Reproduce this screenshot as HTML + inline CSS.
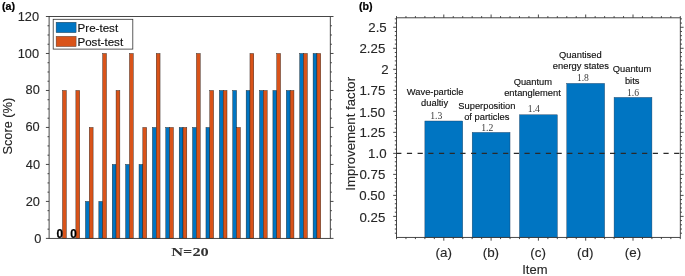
<!DOCTYPE html>
<html><head><meta charset="utf-8"><style>
html,body{margin:0;padding:0;background:#fff;}
svg{display:block;will-change:transform;}

</style></head><body>
<svg width="685" height="276" viewBox="0 0 685 276">
<rect width="685" height="276" fill="#fff"/>
<rect x="62.49" y="90.47" width="3.83" height="147.93" fill="#D95319" stroke="#1a1a1a" stroke-width="0.4"/>
<rect x="75.88" y="90.47" width="3.83" height="147.93" fill="#D95319" stroke="#1a1a1a" stroke-width="0.4"/>
<rect x="85.45" y="201.42" width="3.83" height="36.98" fill="#0075C2" stroke="#1a1a1a" stroke-width="0.4"/>
<rect x="89.27" y="127.45" width="3.83" height="110.95" fill="#D95319" stroke="#1a1a1a" stroke-width="0.4"/>
<rect x="98.84" y="201.42" width="3.83" height="36.98" fill="#0075C2" stroke="#1a1a1a" stroke-width="0.4"/>
<rect x="102.66" y="53.48" width="3.83" height="184.92" fill="#D95319" stroke="#1a1a1a" stroke-width="0.4"/>
<rect x="112.23" y="164.43" width="3.83" height="73.97" fill="#0075C2" stroke="#1a1a1a" stroke-width="0.4"/>
<rect x="116.05" y="90.47" width="3.83" height="147.93" fill="#D95319" stroke="#1a1a1a" stroke-width="0.4"/>
<rect x="125.62" y="164.43" width="3.83" height="73.97" fill="#0075C2" stroke="#1a1a1a" stroke-width="0.4"/>
<rect x="129.44" y="53.48" width="3.83" height="184.92" fill="#D95319" stroke="#1a1a1a" stroke-width="0.4"/>
<rect x="139.01" y="164.43" width="3.83" height="73.97" fill="#0075C2" stroke="#1a1a1a" stroke-width="0.4"/>
<rect x="142.83" y="127.45" width="3.83" height="110.95" fill="#D95319" stroke="#1a1a1a" stroke-width="0.4"/>
<rect x="152.40" y="127.45" width="3.83" height="110.95" fill="#0075C2" stroke="#1a1a1a" stroke-width="0.4"/>
<rect x="156.22" y="53.48" width="3.83" height="184.92" fill="#D95319" stroke="#1a1a1a" stroke-width="0.4"/>
<rect x="165.79" y="127.45" width="3.83" height="110.95" fill="#0075C2" stroke="#1a1a1a" stroke-width="0.4"/>
<rect x="169.61" y="127.45" width="3.83" height="110.95" fill="#D95319" stroke="#1a1a1a" stroke-width="0.4"/>
<rect x="179.18" y="127.45" width="3.83" height="110.95" fill="#0075C2" stroke="#1a1a1a" stroke-width="0.4"/>
<rect x="183.00" y="127.45" width="3.83" height="110.95" fill="#D95319" stroke="#1a1a1a" stroke-width="0.4"/>
<rect x="192.57" y="127.45" width="3.83" height="110.95" fill="#0075C2" stroke="#1a1a1a" stroke-width="0.4"/>
<rect x="196.40" y="53.48" width="3.83" height="184.92" fill="#D95319" stroke="#1a1a1a" stroke-width="0.4"/>
<rect x="205.96" y="127.45" width="3.83" height="110.95" fill="#0075C2" stroke="#1a1a1a" stroke-width="0.4"/>
<rect x="209.79" y="90.47" width="3.83" height="147.93" fill="#D95319" stroke="#1a1a1a" stroke-width="0.4"/>
<rect x="219.35" y="90.47" width="3.83" height="147.93" fill="#0075C2" stroke="#1a1a1a" stroke-width="0.4"/>
<rect x="223.18" y="90.47" width="3.83" height="147.93" fill="#D95319" stroke="#1a1a1a" stroke-width="0.4"/>
<rect x="232.74" y="90.47" width="3.83" height="147.93" fill="#0075C2" stroke="#1a1a1a" stroke-width="0.4"/>
<rect x="236.57" y="127.45" width="3.83" height="110.95" fill="#D95319" stroke="#1a1a1a" stroke-width="0.4"/>
<rect x="246.13" y="90.47" width="3.83" height="147.93" fill="#0075C2" stroke="#1a1a1a" stroke-width="0.4"/>
<rect x="249.96" y="53.48" width="3.83" height="184.92" fill="#D95319" stroke="#1a1a1a" stroke-width="0.4"/>
<rect x="259.52" y="90.47" width="3.83" height="147.93" fill="#0075C2" stroke="#1a1a1a" stroke-width="0.4"/>
<rect x="263.35" y="90.47" width="3.83" height="147.93" fill="#D95319" stroke="#1a1a1a" stroke-width="0.4"/>
<rect x="272.91" y="90.47" width="3.83" height="147.93" fill="#0075C2" stroke="#1a1a1a" stroke-width="0.4"/>
<rect x="276.74" y="53.48" width="3.83" height="184.92" fill="#D95319" stroke="#1a1a1a" stroke-width="0.4"/>
<rect x="286.30" y="90.47" width="3.83" height="147.93" fill="#0075C2" stroke="#1a1a1a" stroke-width="0.4"/>
<rect x="290.13" y="90.47" width="3.83" height="147.93" fill="#D95319" stroke="#1a1a1a" stroke-width="0.4"/>
<rect x="299.69" y="53.48" width="3.83" height="184.92" fill="#0075C2" stroke="#1a1a1a" stroke-width="0.4"/>
<rect x="303.52" y="53.48" width="3.83" height="184.92" fill="#D95319" stroke="#1a1a1a" stroke-width="0.4"/>
<rect x="313.08" y="53.48" width="3.83" height="184.92" fill="#0075C2" stroke="#1a1a1a" stroke-width="0.4"/>
<rect x="316.91" y="53.48" width="3.83" height="184.92" fill="#D95319" stroke="#1a1a1a" stroke-width="0.4"/>
<rect x="49.1" y="16.5" width="281.20" height="221.90" fill="none" stroke="#333333" stroke-width="0.9"/>
<line x1="45.90" y1="238.40" x2="49.1" y2="238.40" stroke="#333333" stroke-width="0.9"/>
<line x1="330.3" y1="238.40" x2="333.50" y2="238.40" stroke="#333333" stroke-width="0.9"/>
<line x1="47.50" y1="229.15" x2="49.1" y2="229.15" stroke="#333333" stroke-width="0.9"/>
<line x1="330.3" y1="229.15" x2="331.90" y2="229.15" stroke="#333333" stroke-width="0.9"/>
<line x1="47.50" y1="219.91" x2="49.1" y2="219.91" stroke="#333333" stroke-width="0.9"/>
<line x1="330.3" y1="219.91" x2="331.90" y2="219.91" stroke="#333333" stroke-width="0.9"/>
<line x1="47.50" y1="210.66" x2="49.1" y2="210.66" stroke="#333333" stroke-width="0.9"/>
<line x1="330.3" y1="210.66" x2="331.90" y2="210.66" stroke="#333333" stroke-width="0.9"/>
<line x1="45.90" y1="201.42" x2="49.1" y2="201.42" stroke="#333333" stroke-width="0.9"/>
<line x1="330.3" y1="201.42" x2="333.50" y2="201.42" stroke="#333333" stroke-width="0.9"/>
<line x1="47.50" y1="192.17" x2="49.1" y2="192.17" stroke="#333333" stroke-width="0.9"/>
<line x1="330.3" y1="192.17" x2="331.90" y2="192.17" stroke="#333333" stroke-width="0.9"/>
<line x1="47.50" y1="182.93" x2="49.1" y2="182.93" stroke="#333333" stroke-width="0.9"/>
<line x1="330.3" y1="182.93" x2="331.90" y2="182.93" stroke="#333333" stroke-width="0.9"/>
<line x1="47.50" y1="173.68" x2="49.1" y2="173.68" stroke="#333333" stroke-width="0.9"/>
<line x1="330.3" y1="173.68" x2="331.90" y2="173.68" stroke="#333333" stroke-width="0.9"/>
<line x1="45.90" y1="164.43" x2="49.1" y2="164.43" stroke="#333333" stroke-width="0.9"/>
<line x1="330.3" y1="164.43" x2="333.50" y2="164.43" stroke="#333333" stroke-width="0.9"/>
<line x1="47.50" y1="155.19" x2="49.1" y2="155.19" stroke="#333333" stroke-width="0.9"/>
<line x1="330.3" y1="155.19" x2="331.90" y2="155.19" stroke="#333333" stroke-width="0.9"/>
<line x1="47.50" y1="145.94" x2="49.1" y2="145.94" stroke="#333333" stroke-width="0.9"/>
<line x1="330.3" y1="145.94" x2="331.90" y2="145.94" stroke="#333333" stroke-width="0.9"/>
<line x1="47.50" y1="136.70" x2="49.1" y2="136.70" stroke="#333333" stroke-width="0.9"/>
<line x1="330.3" y1="136.70" x2="331.90" y2="136.70" stroke="#333333" stroke-width="0.9"/>
<line x1="45.90" y1="127.45" x2="49.1" y2="127.45" stroke="#333333" stroke-width="0.9"/>
<line x1="330.3" y1="127.45" x2="333.50" y2="127.45" stroke="#333333" stroke-width="0.9"/>
<line x1="47.50" y1="118.20" x2="49.1" y2="118.20" stroke="#333333" stroke-width="0.9"/>
<line x1="330.3" y1="118.20" x2="331.90" y2="118.20" stroke="#333333" stroke-width="0.9"/>
<line x1="47.50" y1="108.96" x2="49.1" y2="108.96" stroke="#333333" stroke-width="0.9"/>
<line x1="330.3" y1="108.96" x2="331.90" y2="108.96" stroke="#333333" stroke-width="0.9"/>
<line x1="47.50" y1="99.71" x2="49.1" y2="99.71" stroke="#333333" stroke-width="0.9"/>
<line x1="330.3" y1="99.71" x2="331.90" y2="99.71" stroke="#333333" stroke-width="0.9"/>
<line x1="45.90" y1="90.47" x2="49.1" y2="90.47" stroke="#333333" stroke-width="0.9"/>
<line x1="330.3" y1="90.47" x2="333.50" y2="90.47" stroke="#333333" stroke-width="0.9"/>
<line x1="47.50" y1="81.22" x2="49.1" y2="81.22" stroke="#333333" stroke-width="0.9"/>
<line x1="330.3" y1="81.22" x2="331.90" y2="81.22" stroke="#333333" stroke-width="0.9"/>
<line x1="47.50" y1="71.97" x2="49.1" y2="71.97" stroke="#333333" stroke-width="0.9"/>
<line x1="330.3" y1="71.97" x2="331.90" y2="71.97" stroke="#333333" stroke-width="0.9"/>
<line x1="47.50" y1="62.73" x2="49.1" y2="62.73" stroke="#333333" stroke-width="0.9"/>
<line x1="330.3" y1="62.73" x2="331.90" y2="62.73" stroke="#333333" stroke-width="0.9"/>
<line x1="45.90" y1="53.48" x2="49.1" y2="53.48" stroke="#333333" stroke-width="0.9"/>
<line x1="330.3" y1="53.48" x2="333.50" y2="53.48" stroke="#333333" stroke-width="0.9"/>
<line x1="47.50" y1="44.24" x2="49.1" y2="44.24" stroke="#333333" stroke-width="0.9"/>
<line x1="330.3" y1="44.24" x2="331.90" y2="44.24" stroke="#333333" stroke-width="0.9"/>
<line x1="47.50" y1="34.99" x2="49.1" y2="34.99" stroke="#333333" stroke-width="0.9"/>
<line x1="330.3" y1="34.99" x2="331.90" y2="34.99" stroke="#333333" stroke-width="0.9"/>
<line x1="47.50" y1="25.75" x2="49.1" y2="25.75" stroke="#333333" stroke-width="0.9"/>
<line x1="330.3" y1="25.75" x2="331.90" y2="25.75" stroke="#333333" stroke-width="0.9"/>
<line x1="45.90" y1="16.50" x2="49.1" y2="16.50" stroke="#333333" stroke-width="0.9"/>
<line x1="330.3" y1="16.50" x2="333.50" y2="16.50" stroke="#333333" stroke-width="0.9"/>
<rect x="53.2" y="19.3" width="79.6" height="29.8" fill="#fff" stroke="#333" stroke-width="0.8"/>
<rect x="56.1" y="22.2" width="20" height="10.5" fill="#0075C2" stroke="#333" stroke-width="0.4"/>
<rect x="56.1" y="36.3" width="20" height="10.3" fill="#D95319" stroke="#333" stroke-width="0.4"/>
<rect x="424.88" y="121.00" width="37.84" height="116.40" fill="#0075C2" stroke="#1a3a5a" stroke-width="0.4"/>
<rect x="472.18" y="132.40" width="37.84" height="105.00" fill="#0075C2" stroke="#1a3a5a" stroke-width="0.4"/>
<rect x="519.48" y="114.80" width="37.84" height="122.60" fill="#0075C2" stroke="#1a3a5a" stroke-width="0.4"/>
<rect x="566.78" y="83.40" width="37.84" height="154.00" fill="#0075C2" stroke="#1a3a5a" stroke-width="0.4"/>
<rect x="614.08" y="97.40" width="37.84" height="140.00" fill="#0075C2" stroke="#1a3a5a" stroke-width="0.4"/>
<line x1="396.2" y1="153.4" x2="680.3" y2="153.4" stroke="#2a2a2a" stroke-width="1.3" stroke-dasharray="5.2 5.49"/>
<rect x="396.5" y="17.8" width="283.80" height="219.60" fill="none" stroke="#333333" stroke-width="0.9"/>
<line x1="396.50" y1="237.40" x2="396.5" y2="237.40" stroke="#333333" stroke-width="0.9"/>
<line x1="680.3" y1="237.40" x2="680.30" y2="237.40" stroke="#333333" stroke-width="0.9"/>
<line x1="394.80" y1="233.20" x2="396.5" y2="233.20" stroke="#333333" stroke-width="0.9"/>
<line x1="680.3" y1="233.20" x2="682.00" y2="233.20" stroke="#333333" stroke-width="0.9"/>
<line x1="394.80" y1="229.00" x2="396.5" y2="229.00" stroke="#333333" stroke-width="0.9"/>
<line x1="680.3" y1="229.00" x2="682.00" y2="229.00" stroke="#333333" stroke-width="0.9"/>
<line x1="394.80" y1="224.79" x2="396.5" y2="224.79" stroke="#333333" stroke-width="0.9"/>
<line x1="680.3" y1="224.79" x2="682.00" y2="224.79" stroke="#333333" stroke-width="0.9"/>
<line x1="394.80" y1="220.59" x2="396.5" y2="220.59" stroke="#333333" stroke-width="0.9"/>
<line x1="680.3" y1="220.59" x2="682.00" y2="220.59" stroke="#333333" stroke-width="0.9"/>
<line x1="393.20" y1="216.39" x2="396.5" y2="216.39" stroke="#333333" stroke-width="0.9"/>
<line x1="680.3" y1="216.39" x2="683.60" y2="216.39" stroke="#333333" stroke-width="0.9"/>
<line x1="394.80" y1="212.19" x2="396.5" y2="212.19" stroke="#333333" stroke-width="0.9"/>
<line x1="680.3" y1="212.19" x2="682.00" y2="212.19" stroke="#333333" stroke-width="0.9"/>
<line x1="394.80" y1="207.98" x2="396.5" y2="207.98" stroke="#333333" stroke-width="0.9"/>
<line x1="680.3" y1="207.98" x2="682.00" y2="207.98" stroke="#333333" stroke-width="0.9"/>
<line x1="394.80" y1="203.78" x2="396.5" y2="203.78" stroke="#333333" stroke-width="0.9"/>
<line x1="680.3" y1="203.78" x2="682.00" y2="203.78" stroke="#333333" stroke-width="0.9"/>
<line x1="394.80" y1="199.58" x2="396.5" y2="199.58" stroke="#333333" stroke-width="0.9"/>
<line x1="680.3" y1="199.58" x2="682.00" y2="199.58" stroke="#333333" stroke-width="0.9"/>
<line x1="393.20" y1="195.38" x2="396.5" y2="195.38" stroke="#333333" stroke-width="0.9"/>
<line x1="680.3" y1="195.38" x2="683.60" y2="195.38" stroke="#333333" stroke-width="0.9"/>
<line x1="394.80" y1="191.17" x2="396.5" y2="191.17" stroke="#333333" stroke-width="0.9"/>
<line x1="680.3" y1="191.17" x2="682.00" y2="191.17" stroke="#333333" stroke-width="0.9"/>
<line x1="394.80" y1="186.97" x2="396.5" y2="186.97" stroke="#333333" stroke-width="0.9"/>
<line x1="680.3" y1="186.97" x2="682.00" y2="186.97" stroke="#333333" stroke-width="0.9"/>
<line x1="394.80" y1="182.77" x2="396.5" y2="182.77" stroke="#333333" stroke-width="0.9"/>
<line x1="680.3" y1="182.77" x2="682.00" y2="182.77" stroke="#333333" stroke-width="0.9"/>
<line x1="394.80" y1="178.56" x2="396.5" y2="178.56" stroke="#333333" stroke-width="0.9"/>
<line x1="680.3" y1="178.56" x2="682.00" y2="178.56" stroke="#333333" stroke-width="0.9"/>
<line x1="393.20" y1="174.36" x2="396.5" y2="174.36" stroke="#333333" stroke-width="0.9"/>
<line x1="680.3" y1="174.36" x2="683.60" y2="174.36" stroke="#333333" stroke-width="0.9"/>
<line x1="394.80" y1="170.16" x2="396.5" y2="170.16" stroke="#333333" stroke-width="0.9"/>
<line x1="680.3" y1="170.16" x2="682.00" y2="170.16" stroke="#333333" stroke-width="0.9"/>
<line x1="394.80" y1="165.96" x2="396.5" y2="165.96" stroke="#333333" stroke-width="0.9"/>
<line x1="680.3" y1="165.96" x2="682.00" y2="165.96" stroke="#333333" stroke-width="0.9"/>
<line x1="394.80" y1="161.75" x2="396.5" y2="161.75" stroke="#333333" stroke-width="0.9"/>
<line x1="680.3" y1="161.75" x2="682.00" y2="161.75" stroke="#333333" stroke-width="0.9"/>
<line x1="394.80" y1="157.55" x2="396.5" y2="157.55" stroke="#333333" stroke-width="0.9"/>
<line x1="680.3" y1="157.55" x2="682.00" y2="157.55" stroke="#333333" stroke-width="0.9"/>
<line x1="393.20" y1="153.35" x2="396.5" y2="153.35" stroke="#333333" stroke-width="0.9"/>
<line x1="680.3" y1="153.35" x2="683.60" y2="153.35" stroke="#333333" stroke-width="0.9"/>
<line x1="394.80" y1="149.15" x2="396.5" y2="149.15" stroke="#333333" stroke-width="0.9"/>
<line x1="680.3" y1="149.15" x2="682.00" y2="149.15" stroke="#333333" stroke-width="0.9"/>
<line x1="394.80" y1="144.94" x2="396.5" y2="144.94" stroke="#333333" stroke-width="0.9"/>
<line x1="680.3" y1="144.94" x2="682.00" y2="144.94" stroke="#333333" stroke-width="0.9"/>
<line x1="394.80" y1="140.74" x2="396.5" y2="140.74" stroke="#333333" stroke-width="0.9"/>
<line x1="680.3" y1="140.74" x2="682.00" y2="140.74" stroke="#333333" stroke-width="0.9"/>
<line x1="394.80" y1="136.54" x2="396.5" y2="136.54" stroke="#333333" stroke-width="0.9"/>
<line x1="680.3" y1="136.54" x2="682.00" y2="136.54" stroke="#333333" stroke-width="0.9"/>
<line x1="393.20" y1="132.34" x2="396.5" y2="132.34" stroke="#333333" stroke-width="0.9"/>
<line x1="680.3" y1="132.34" x2="683.60" y2="132.34" stroke="#333333" stroke-width="0.9"/>
<line x1="394.80" y1="128.13" x2="396.5" y2="128.13" stroke="#333333" stroke-width="0.9"/>
<line x1="680.3" y1="128.13" x2="682.00" y2="128.13" stroke="#333333" stroke-width="0.9"/>
<line x1="394.80" y1="123.93" x2="396.5" y2="123.93" stroke="#333333" stroke-width="0.9"/>
<line x1="680.3" y1="123.93" x2="682.00" y2="123.93" stroke="#333333" stroke-width="0.9"/>
<line x1="394.80" y1="119.73" x2="396.5" y2="119.73" stroke="#333333" stroke-width="0.9"/>
<line x1="680.3" y1="119.73" x2="682.00" y2="119.73" stroke="#333333" stroke-width="0.9"/>
<line x1="394.80" y1="115.53" x2="396.5" y2="115.53" stroke="#333333" stroke-width="0.9"/>
<line x1="680.3" y1="115.53" x2="682.00" y2="115.53" stroke="#333333" stroke-width="0.9"/>
<line x1="393.20" y1="111.33" x2="396.5" y2="111.33" stroke="#333333" stroke-width="0.9"/>
<line x1="680.3" y1="111.33" x2="683.60" y2="111.33" stroke="#333333" stroke-width="0.9"/>
<line x1="394.80" y1="107.12" x2="396.5" y2="107.12" stroke="#333333" stroke-width="0.9"/>
<line x1="680.3" y1="107.12" x2="682.00" y2="107.12" stroke="#333333" stroke-width="0.9"/>
<line x1="394.80" y1="102.92" x2="396.5" y2="102.92" stroke="#333333" stroke-width="0.9"/>
<line x1="680.3" y1="102.92" x2="682.00" y2="102.92" stroke="#333333" stroke-width="0.9"/>
<line x1="394.80" y1="98.72" x2="396.5" y2="98.72" stroke="#333333" stroke-width="0.9"/>
<line x1="680.3" y1="98.72" x2="682.00" y2="98.72" stroke="#333333" stroke-width="0.9"/>
<line x1="394.80" y1="94.51" x2="396.5" y2="94.51" stroke="#333333" stroke-width="0.9"/>
<line x1="680.3" y1="94.51" x2="682.00" y2="94.51" stroke="#333333" stroke-width="0.9"/>
<line x1="393.20" y1="90.31" x2="396.5" y2="90.31" stroke="#333333" stroke-width="0.9"/>
<line x1="680.3" y1="90.31" x2="683.60" y2="90.31" stroke="#333333" stroke-width="0.9"/>
<line x1="394.80" y1="86.11" x2="396.5" y2="86.11" stroke="#333333" stroke-width="0.9"/>
<line x1="680.3" y1="86.11" x2="682.00" y2="86.11" stroke="#333333" stroke-width="0.9"/>
<line x1="394.80" y1="81.91" x2="396.5" y2="81.91" stroke="#333333" stroke-width="0.9"/>
<line x1="680.3" y1="81.91" x2="682.00" y2="81.91" stroke="#333333" stroke-width="0.9"/>
<line x1="394.80" y1="77.71" x2="396.5" y2="77.71" stroke="#333333" stroke-width="0.9"/>
<line x1="680.3" y1="77.71" x2="682.00" y2="77.71" stroke="#333333" stroke-width="0.9"/>
<line x1="394.80" y1="73.50" x2="396.5" y2="73.50" stroke="#333333" stroke-width="0.9"/>
<line x1="680.3" y1="73.50" x2="682.00" y2="73.50" stroke="#333333" stroke-width="0.9"/>
<line x1="393.20" y1="69.30" x2="396.5" y2="69.30" stroke="#333333" stroke-width="0.9"/>
<line x1="680.3" y1="69.30" x2="683.60" y2="69.30" stroke="#333333" stroke-width="0.9"/>
<line x1="394.80" y1="65.10" x2="396.5" y2="65.10" stroke="#333333" stroke-width="0.9"/>
<line x1="680.3" y1="65.10" x2="682.00" y2="65.10" stroke="#333333" stroke-width="0.9"/>
<line x1="394.80" y1="60.90" x2="396.5" y2="60.90" stroke="#333333" stroke-width="0.9"/>
<line x1="680.3" y1="60.90" x2="682.00" y2="60.90" stroke="#333333" stroke-width="0.9"/>
<line x1="394.80" y1="56.69" x2="396.5" y2="56.69" stroke="#333333" stroke-width="0.9"/>
<line x1="680.3" y1="56.69" x2="682.00" y2="56.69" stroke="#333333" stroke-width="0.9"/>
<line x1="394.80" y1="52.49" x2="396.5" y2="52.49" stroke="#333333" stroke-width="0.9"/>
<line x1="680.3" y1="52.49" x2="682.00" y2="52.49" stroke="#333333" stroke-width="0.9"/>
<line x1="393.20" y1="48.29" x2="396.5" y2="48.29" stroke="#333333" stroke-width="0.9"/>
<line x1="680.3" y1="48.29" x2="683.60" y2="48.29" stroke="#333333" stroke-width="0.9"/>
<line x1="394.80" y1="44.08" x2="396.5" y2="44.08" stroke="#333333" stroke-width="0.9"/>
<line x1="680.3" y1="44.08" x2="682.00" y2="44.08" stroke="#333333" stroke-width="0.9"/>
<line x1="394.80" y1="39.88" x2="396.5" y2="39.88" stroke="#333333" stroke-width="0.9"/>
<line x1="680.3" y1="39.88" x2="682.00" y2="39.88" stroke="#333333" stroke-width="0.9"/>
<line x1="394.80" y1="35.68" x2="396.5" y2="35.68" stroke="#333333" stroke-width="0.9"/>
<line x1="680.3" y1="35.68" x2="682.00" y2="35.68" stroke="#333333" stroke-width="0.9"/>
<line x1="394.80" y1="31.48" x2="396.5" y2="31.48" stroke="#333333" stroke-width="0.9"/>
<line x1="680.3" y1="31.48" x2="682.00" y2="31.48" stroke="#333333" stroke-width="0.9"/>
<line x1="393.20" y1="27.28" x2="396.5" y2="27.28" stroke="#333333" stroke-width="0.9"/>
<line x1="680.3" y1="27.28" x2="683.60" y2="27.28" stroke="#333333" stroke-width="0.9"/>
<line x1="394.80" y1="23.07" x2="396.5" y2="23.07" stroke="#333333" stroke-width="0.9"/>
<line x1="680.3" y1="23.07" x2="682.00" y2="23.07" stroke="#333333" stroke-width="0.9"/>
<line x1="394.80" y1="18.87" x2="396.5" y2="18.87" stroke="#333333" stroke-width="0.9"/>
<line x1="680.3" y1="18.87" x2="682.00" y2="18.87" stroke="#333333" stroke-width="0.9"/>
<line x1="396.50" y1="237.4" x2="396.50" y2="239.10" stroke="#333333" stroke-width="0.9"/>
<line x1="396.50" y1="16.10" x2="396.50" y2="17.8" stroke="#333333" stroke-width="0.9"/>
<line x1="405.96" y1="237.4" x2="405.96" y2="239.10" stroke="#333333" stroke-width="0.9"/>
<line x1="405.96" y1="16.10" x2="405.96" y2="17.8" stroke="#333333" stroke-width="0.9"/>
<line x1="415.42" y1="237.4" x2="415.42" y2="239.10" stroke="#333333" stroke-width="0.9"/>
<line x1="415.42" y1="16.10" x2="415.42" y2="17.8" stroke="#333333" stroke-width="0.9"/>
<line x1="424.88" y1="237.4" x2="424.88" y2="239.10" stroke="#333333" stroke-width="0.9"/>
<line x1="424.88" y1="16.10" x2="424.88" y2="17.8" stroke="#333333" stroke-width="0.9"/>
<line x1="434.34" y1="237.4" x2="434.34" y2="239.10" stroke="#333333" stroke-width="0.9"/>
<line x1="434.34" y1="16.10" x2="434.34" y2="17.8" stroke="#333333" stroke-width="0.9"/>
<line x1="443.80" y1="237.4" x2="443.80" y2="240.70" stroke="#333333" stroke-width="0.9"/>
<line x1="443.80" y1="14.50" x2="443.80" y2="17.8" stroke="#333333" stroke-width="0.9"/>
<line x1="453.26" y1="237.4" x2="453.26" y2="239.10" stroke="#333333" stroke-width="0.9"/>
<line x1="453.26" y1="16.10" x2="453.26" y2="17.8" stroke="#333333" stroke-width="0.9"/>
<line x1="462.72" y1="237.4" x2="462.72" y2="239.10" stroke="#333333" stroke-width="0.9"/>
<line x1="462.72" y1="16.10" x2="462.72" y2="17.8" stroke="#333333" stroke-width="0.9"/>
<line x1="472.18" y1="237.4" x2="472.18" y2="239.10" stroke="#333333" stroke-width="0.9"/>
<line x1="472.18" y1="16.10" x2="472.18" y2="17.8" stroke="#333333" stroke-width="0.9"/>
<line x1="481.64" y1="237.4" x2="481.64" y2="239.10" stroke="#333333" stroke-width="0.9"/>
<line x1="481.64" y1="16.10" x2="481.64" y2="17.8" stroke="#333333" stroke-width="0.9"/>
<line x1="491.10" y1="237.4" x2="491.10" y2="240.70" stroke="#333333" stroke-width="0.9"/>
<line x1="491.10" y1="14.50" x2="491.10" y2="17.8" stroke="#333333" stroke-width="0.9"/>
<line x1="500.56" y1="237.4" x2="500.56" y2="239.10" stroke="#333333" stroke-width="0.9"/>
<line x1="500.56" y1="16.10" x2="500.56" y2="17.8" stroke="#333333" stroke-width="0.9"/>
<line x1="510.02" y1="237.4" x2="510.02" y2="239.10" stroke="#333333" stroke-width="0.9"/>
<line x1="510.02" y1="16.10" x2="510.02" y2="17.8" stroke="#333333" stroke-width="0.9"/>
<line x1="519.48" y1="237.4" x2="519.48" y2="239.10" stroke="#333333" stroke-width="0.9"/>
<line x1="519.48" y1="16.10" x2="519.48" y2="17.8" stroke="#333333" stroke-width="0.9"/>
<line x1="528.94" y1="237.4" x2="528.94" y2="239.10" stroke="#333333" stroke-width="0.9"/>
<line x1="528.94" y1="16.10" x2="528.94" y2="17.8" stroke="#333333" stroke-width="0.9"/>
<line x1="538.40" y1="237.4" x2="538.40" y2="240.70" stroke="#333333" stroke-width="0.9"/>
<line x1="538.40" y1="14.50" x2="538.40" y2="17.8" stroke="#333333" stroke-width="0.9"/>
<line x1="547.86" y1="237.4" x2="547.86" y2="239.10" stroke="#333333" stroke-width="0.9"/>
<line x1="547.86" y1="16.10" x2="547.86" y2="17.8" stroke="#333333" stroke-width="0.9"/>
<line x1="557.32" y1="237.4" x2="557.32" y2="239.10" stroke="#333333" stroke-width="0.9"/>
<line x1="557.32" y1="16.10" x2="557.32" y2="17.8" stroke="#333333" stroke-width="0.9"/>
<line x1="566.78" y1="237.4" x2="566.78" y2="239.10" stroke="#333333" stroke-width="0.9"/>
<line x1="566.78" y1="16.10" x2="566.78" y2="17.8" stroke="#333333" stroke-width="0.9"/>
<line x1="576.24" y1="237.4" x2="576.24" y2="239.10" stroke="#333333" stroke-width="0.9"/>
<line x1="576.24" y1="16.10" x2="576.24" y2="17.8" stroke="#333333" stroke-width="0.9"/>
<line x1="585.70" y1="237.4" x2="585.70" y2="240.70" stroke="#333333" stroke-width="0.9"/>
<line x1="585.70" y1="14.50" x2="585.70" y2="17.8" stroke="#333333" stroke-width="0.9"/>
<line x1="595.16" y1="237.4" x2="595.16" y2="239.10" stroke="#333333" stroke-width="0.9"/>
<line x1="595.16" y1="16.10" x2="595.16" y2="17.8" stroke="#333333" stroke-width="0.9"/>
<line x1="604.62" y1="237.4" x2="604.62" y2="239.10" stroke="#333333" stroke-width="0.9"/>
<line x1="604.62" y1="16.10" x2="604.62" y2="17.8" stroke="#333333" stroke-width="0.9"/>
<line x1="614.08" y1="237.4" x2="614.08" y2="239.10" stroke="#333333" stroke-width="0.9"/>
<line x1="614.08" y1="16.10" x2="614.08" y2="17.8" stroke="#333333" stroke-width="0.9"/>
<line x1="623.54" y1="237.4" x2="623.54" y2="239.10" stroke="#333333" stroke-width="0.9"/>
<line x1="623.54" y1="16.10" x2="623.54" y2="17.8" stroke="#333333" stroke-width="0.9"/>
<line x1="633.00" y1="237.4" x2="633.00" y2="240.70" stroke="#333333" stroke-width="0.9"/>
<line x1="633.00" y1="14.50" x2="633.00" y2="17.8" stroke="#333333" stroke-width="0.9"/>
<line x1="642.46" y1="237.4" x2="642.46" y2="239.10" stroke="#333333" stroke-width="0.9"/>
<line x1="642.46" y1="16.10" x2="642.46" y2="17.8" stroke="#333333" stroke-width="0.9"/>
<line x1="651.92" y1="237.4" x2="651.92" y2="239.10" stroke="#333333" stroke-width="0.9"/>
<line x1="651.92" y1="16.10" x2="651.92" y2="17.8" stroke="#333333" stroke-width="0.9"/>
<line x1="661.38" y1="237.4" x2="661.38" y2="239.10" stroke="#333333" stroke-width="0.9"/>
<line x1="661.38" y1="16.10" x2="661.38" y2="17.8" stroke="#333333" stroke-width="0.9"/>
<line x1="670.84" y1="237.4" x2="670.84" y2="239.10" stroke="#333333" stroke-width="0.9"/>
<line x1="670.84" y1="16.10" x2="670.84" y2="17.8" stroke="#333333" stroke-width="0.9"/>
<line x1="680.30" y1="237.4" x2="680.30" y2="239.10" stroke="#333333" stroke-width="0.9"/>
<line x1="680.30" y1="16.10" x2="680.30" y2="17.8" stroke="#333333" stroke-width="0.9"/>
<text transform="translate(1.95,10.46) scale(1.0000,1)" style="font-family:&quot;Liberation Sans&quot;" font-size="10.70" font-weight="bold" fill="#000" stroke="#000" stroke-width="0.2">(a)</text>
<text transform="translate(17.75,20.89) scale(1.0500,1)" style="font-family:&quot;Liberation Sans&quot;" font-size="12.20" fill="#262626" stroke="#262626" stroke-width="0.12">120</text>
<text transform="translate(17.75,57.74) scale(1.0500,1)" style="font-family:&quot;Liberation Sans&quot;" font-size="12.20" fill="#262626" stroke="#262626" stroke-width="0.12">100</text>
<text transform="translate(25.57,94.39) scale(1.0500,1)" style="font-family:&quot;Liberation Sans&quot;" font-size="12.20" fill="#262626" stroke="#262626" stroke-width="0.12">80</text>
<text transform="translate(25.47,131.39) scale(1.0500,1)" style="font-family:&quot;Liberation Sans&quot;" font-size="12.20" fill="#262626" stroke="#262626" stroke-width="0.12">60</text>
<text transform="translate(25.87,168.69) scale(1.0500,1)" style="font-family:&quot;Liberation Sans&quot;" font-size="12.20" fill="#262626" stroke="#262626" stroke-width="0.12">40</text>
<text transform="translate(25.67,206.04) scale(1.0500,1)" style="font-family:&quot;Liberation Sans&quot;" font-size="12.20" fill="#262626" stroke="#262626" stroke-width="0.12">20</text>
<text transform="translate(34.19,243.49) scale(1.0500,1)" style="font-family:&quot;Liberation Sans&quot;" font-size="12.20" fill="#262626" stroke="#262626" stroke-width="0.12">0</text>
<text transform="translate(77.59,31.60) scale(1.0350,1)" style="font-family:&quot;Liberation Sans&quot;" font-size="11.20" fill="#111" stroke="#111" stroke-width="0.15">Pre-test</text>
<text transform="translate(77.46,45.70) scale(1.0350,1)" style="font-family:&quot;Liberation Sans&quot;" font-size="11.20" fill="#111" stroke="#111" stroke-width="0.15">Post-test</text>
<text transform="translate(56.38,237.62) scale(0.9800,1)" style="font-family:&quot;Liberation Sans&quot;" font-size="12.00" font-weight="bold" fill="#000" stroke="#000" stroke-width="0.2">0</text>
<text transform="translate(70.18,237.62) scale(0.9800,1)" style="font-family:&quot;Liberation Sans&quot;" font-size="12.00" font-weight="bold" fill="#000" stroke="#000" stroke-width="0.2">0</text>
<text transform="translate(12.35,154.50) rotate(-90) scale(1.0142,1)" style="font-family:&quot;Liberation Sans&quot;" font-size="12.59" fill="#262626" stroke="#262626" stroke-width="0.12">Score (%)</text>
<text transform="translate(171.29,256.30) scale(1.3400,1)" style="font-family:&quot;Liberation Serif&quot;" font-size="12.20" font-weight="bold" fill="#333">N=20</text>
<text transform="translate(358.96,10.46) scale(1.0000,1)" style="font-family:&quot;Liberation Sans&quot;" font-size="10.70" font-weight="bold" fill="#000" stroke="#000" stroke-width="0.2">(b)</text>
<text transform="translate(368.27,32.38) scale(1.0300,1)" style="font-family:&quot;Liberation Sans&quot;" font-size="12.90" fill="#262626" stroke="#262626" stroke-width="0.12">2.5</text>
<text transform="translate(359.48,53.33) scale(1.0300,1)" style="font-family:&quot;Liberation Sans&quot;" font-size="12.90" fill="#262626" stroke="#262626" stroke-width="0.12">2.25</text>
<text transform="translate(381.25,73.94) scale(1.0300,1)" style="font-family:&quot;Liberation Sans&quot;" font-size="12.90" fill="#262626" stroke="#262626" stroke-width="0.12">2</text>
<text transform="translate(359.48,95.33) scale(1.0300,1)" style="font-family:&quot;Liberation Sans&quot;" font-size="12.90" fill="#262626" stroke="#262626" stroke-width="0.12">1.75</text>
<text transform="translate(359.27,116.58) scale(1.0300,1)" style="font-family:&quot;Liberation Sans&quot;" font-size="12.90" fill="#262626" stroke="#262626" stroke-width="0.12">1.50</text>
<text transform="translate(359.48,137.43) scale(1.0300,1)" style="font-family:&quot;Liberation Sans&quot;" font-size="12.90" fill="#262626" stroke="#262626" stroke-width="0.12">1.25</text>
<text transform="translate(368.06,158.48) scale(1.0300,1)" style="font-family:&quot;Liberation Sans&quot;" font-size="12.90" fill="#262626" stroke="#262626" stroke-width="0.12">1.0</text>
<text transform="translate(359.48,179.43) scale(1.0300,1)" style="font-family:&quot;Liberation Sans&quot;" font-size="12.90" fill="#262626" stroke="#262626" stroke-width="0.12">0.75</text>
<text transform="translate(359.27,200.48) scale(1.0300,1)" style="font-family:&quot;Liberation Sans&quot;" font-size="12.90" fill="#262626" stroke="#262626" stroke-width="0.12">0.50</text>
<text transform="translate(359.48,222.03) scale(1.0300,1)" style="font-family:&quot;Liberation Sans&quot;" font-size="12.90" fill="#262626" stroke="#262626" stroke-width="0.12">0.25</text>
<text transform="translate(435.55,256.75) scale(1.0800,1)" style="font-family:&quot;Liberation Sans&quot;" font-size="12.40" fill="#262626" stroke="#262626" stroke-width="0.12">(a)</text>
<text transform="translate(482.70,256.75) scale(1.0800,1)" style="font-family:&quot;Liberation Sans&quot;" font-size="12.40" fill="#262626" stroke="#262626" stroke-width="0.12">(b)</text>
<text transform="translate(530.33,256.75) scale(1.0800,1)" style="font-family:&quot;Liberation Sans&quot;" font-size="12.40" fill="#262626" stroke="#262626" stroke-width="0.12">(c)</text>
<text transform="translate(577.05,256.95) scale(1.0800,1)" style="font-family:&quot;Liberation Sans&quot;" font-size="12.40" fill="#262626" stroke="#262626" stroke-width="0.12">(d)</text>
<text transform="translate(624.75,256.95) scale(1.0800,1)" style="font-family:&quot;Liberation Sans&quot;" font-size="12.40" fill="#262626" stroke="#262626" stroke-width="0.12">(e)</text>
<text transform="translate(522.19,274.02) scale(1.0000,1)" style="font-family:&quot;Liberation Sans&quot;" font-size="13.00" fill="#262626" stroke="#262626" stroke-width="0.12">Item</text>
<text transform="translate(354.50,190.73) rotate(-90) scale(1.0330,1)" style="font-family:&quot;Liberation Sans&quot;" font-size="12.80" fill="#262626" stroke="#262626" stroke-width="0.12">Improvement factor</text>
<text transform="translate(406.81,94.60) scale(0.9850,1)" style="font-family:&quot;Liberation Sans&quot;" font-size="9.50" fill="#111" stroke="#111" stroke-width="0.15">Wave-particle</text>
<text transform="translate(421.08,105.80) scale(0.9850,1)" style="font-family:&quot;Liberation Sans&quot;" font-size="9.50" fill="#111" stroke="#111" stroke-width="0.15">dualtiy</text>
<text transform="translate(458.30,108.90) scale(0.9850,1)" style="font-family:&quot;Liberation Sans&quot;" font-size="9.50" fill="#111" stroke="#111" stroke-width="0.15">Superposition</text>
<text transform="translate(464.18,119.80) scale(0.9850,1)" style="font-family:&quot;Liberation Sans&quot;" font-size="9.50" fill="#111" stroke="#111" stroke-width="0.15">of particles</text>
<text transform="translate(513.63,84.80) scale(0.9850,1)" style="font-family:&quot;Liberation Sans&quot;" font-size="9.50" fill="#111" stroke="#111" stroke-width="0.15">Quantum</text>
<text transform="translate(504.18,96.00) scale(0.9850,1)" style="font-family:&quot;Liberation Sans&quot;" font-size="9.50" fill="#111" stroke="#111" stroke-width="0.15">entanglement</text>
<text transform="translate(559.11,58.10) scale(0.9850,1)" style="font-family:&quot;Liberation Sans&quot;" font-size="9.50" fill="#111" stroke="#111" stroke-width="0.15">Quantised</text>
<text transform="translate(552.86,69.40) scale(0.9850,1)" style="font-family:&quot;Liberation Sans&quot;" font-size="9.50" fill="#111" stroke="#111" stroke-width="0.15">energy states</text>
<text transform="translate(612.78,72.10) scale(0.9850,1)" style="font-family:&quot;Liberation Sans&quot;" font-size="9.50" fill="#111" stroke="#111" stroke-width="0.15">Quantum</text>
<text transform="translate(624.92,83.80) scale(0.9850,1)" style="font-family:&quot;Liberation Sans&quot;" font-size="9.50" fill="#111" stroke="#111" stroke-width="0.15">bits</text>
<text transform="translate(430.18,119.10) scale(1.0400,1)" style="font-family:&quot;Liberation Serif&quot;" font-size="9.30" fill="#3a3a3a">1.3</text>
<text transform="translate(481.20,131.20) scale(1.0400,1)" style="font-family:&quot;Liberation Serif&quot;" font-size="9.30" fill="#3a3a3a">1.2</text>
<text transform="translate(527.85,112.30) scale(1.0400,1)" style="font-family:&quot;Liberation Serif&quot;" font-size="9.30" fill="#3a3a3a">1.4</text>
<text transform="translate(576.88,80.70) scale(1.0400,1)" style="font-family:&quot;Liberation Serif&quot;" font-size="9.30" fill="#3a3a3a">1.8</text>
<text transform="translate(626.90,95.70) scale(1.0400,1)" style="font-family:&quot;Liberation Serif&quot;" font-size="9.30" fill="#3a3a3a">1.6</text>
</svg>
</body></html>
